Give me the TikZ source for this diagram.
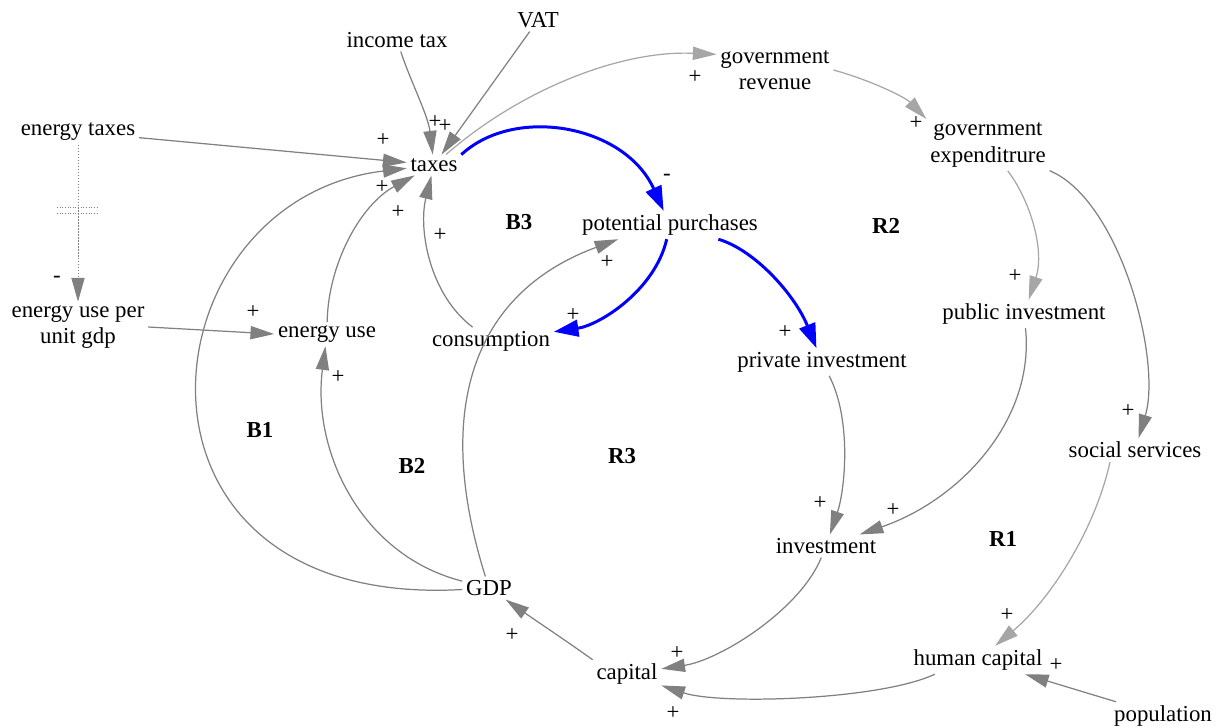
\documentclass[tikz,border=0pt]{standalone}
\usepackage{fontspec}
\setmainfont{Liberation Serif}
\usetikzlibrary{arrows.meta}
\definecolor{linkgray}{RGB}{128,128,128}
\definecolor{palegray}{RGB}{166,166,166}
\definecolor{loopblue}{RGB}{0,0,255}
\begin{document}
\begin{tikzpicture}[x=0.02cm,y=-0.02cm,
  every node/.style={font=\fontsize{13}{15}\selectfont},
  var/.style={inner sep=2pt,align=center},
  pol/.style={inner sep=0pt},
  looplabel/.style={font=\fontsize{13}{15}\selectfont\bfseries},
  link/.style={draw=linkgray,line width=0.7pt,-{Triangle[length=13.5pt,width=7.5pt]}},
  palelink/.style={link,draw=palegray},
  bluelink/.style={draw=loopblue,line width=1.7pt,-{Triangle[length=14pt,width=9.5pt]}},
  delaylink/.style={link,densely dotted,line width=0.5pt},
  delaymark/.style={draw=linkgray,densely dotted,line width=0.5pt}]
  \useasboundingbox (0,0) rectangle (1220,727);

  \node[var] (incometax) at (397,40) {income tax};
  \node[var] (vat) at (538,20) {VAT};
  \node[var] (govrev) at (775,70) {government\\revenue};
  \node[var] (energytaxes) at (78,132) {energy taxes};
  \node[var] (taxes) at (434,165) {taxes};
  \node[var] (govexp) at (988,145) {government\\expenditrure};
  \node[var] (purchases) at (670,225) {potential purchases};
  \node[var] (eupg) at (78,327) {energy use per\\unit gdp};
  \node[var] (energyuse) at (327,334) {energy use};
  \node[var] (consumption) at (491,341) {consumption};
  \node[var] (privinv) at (822,362) {private investment};
  \node[var] (pubinv) at (1024,314) {public investment};
  \node[var] (socserv) at (1135,450) {social services};
  \node[var] (investment) at (826,546) {investment};
  \node[var] (gdp) at (489,588) {GDP};
  \node[var] (capital) at (627,674) {capital};
  \node[var] (humcap) at (978,660) {human capital};
  \node[var] (population) at (1163,716) {population};

  \node[looplabel] (b1) at (260,430) {B1};
  \node[looplabel] (b2) at (412,466) {B2};
  \node[looplabel] (b3) at (519,222) {B3};
  \node[looplabel] (r1) at (1003,539) {R1};
  \node[looplabel] (r2) at (886,226) {R2};
  \node[looplabel] (r3) at (622,456) {R3};

  \draw[link] (incometax) .. controls (410,80) and (428,115) .. (taxes);
  \draw[link] (vat) -- (taxes);
  \draw[link] (energytaxes) -- (taxes);
  \draw[link] (gdp) .. controls (100,610) and (140,200) .. (taxes);
  \draw[link] (energyuse) .. controls (328,265) and (360,205) .. (taxes);
  \draw[link] (consumption) .. controls (430,295) and (418,230) .. (taxes);
  \draw[palelink] (taxes) .. controls (520,90) and (620,50) .. (govrev.165);
  \draw[palelink] (govrev.east) .. controls (870,80) and (905,97) .. (govexp.north west);
  \draw[palelink] (govexp) .. controls (1030,200) and (1045,250) .. (pubinv);
  \draw[link] (govexp) .. controls (1120,200) and (1162,360) .. (socserv);
  \draw[palelink] ([xshift=-0.5cm]socserv.south) .. controls (1095,530) and (1050,600) .. (humcap);
  \draw[link] (population) -- (humcap);
  \draw[link] ([xshift=0.5cm]humcap.south west) .. controls (880,700) and (720,705) .. (capital);
  \draw[link] (investment) .. controls (800,610) and (720,660) .. (capital);
  \draw[link] (capital.north west) .. controls (565,640) and (535,620) .. (gdp);
  \draw[link] (pubinv) .. controls (1035,420) and (960,500) .. (investment);
  \draw[link] (privinv) .. controls (852,420) and (845,490) .. (investment);
  \draw[link] (gdp) .. controls (430,400) and (480,290) .. ([xshift=0.8cm]purchases.south west);
  \draw[link] (gdp) .. controls (360,555) and (312,450) .. (energyuse);
  \draw[link] (eupg.east) -- (energyuse.west);
  \draw[delaylink] (energytaxes) -- (eupg);
  \draw[delaymark] (57,207) -- (99,207) (57,213) -- (99,213);
  \draw[bluelink] (taxes.north east) .. controls (515,105) and (625,125) .. (purchases);
  \draw[bluelink] (purchases) .. controls (755,250) and (795,295) .. (privinv);
  \draw[bluelink] (purchases) .. controls (655,290) and (600,325) .. (consumption);

  \node[pol] (p-inc) at (435,122) {+};
  \node[pol] (p-vat) at (445,126) {+};
  \node[pol] (p-etx) at (383,140) {+};
  \node[pol] (p-gdptx) at (382,187) {+};
  \node[pol] (p-eutx) at (398,212) {+};
  \node[pol] (p-contx) at (440,235) {+};
  \node[pol] (p-rev) at (695,77) {+};
  \node[pol] (p-exp) at (916,123) {+};
  \node[pol] (p-pub) at (1015,276) {+};
  \node[pol] (p-soc) at (1128,411) {+};
  \node[pol] (p-hum) at (1007,615) {+};
  \node[pol] (p-pop) at (1056,665) {+};
  \node[pol] (p-humcap) at (673,713) {+};
  \node[pol] (p-invcap) at (677,653) {+};
  \node[pol] (p-capgdp) at (512,635) {+};
  \node[pol] (p-pubinv) at (893,510) {+};
  \node[pol] (p-privinv) at (820,503) {+};
  \node[pol] (p-ppinv) at (785,332) {+};
  \node[pol] (p-ppcon) at (573,315) {+};
  \node[pol] (p-gdppp) at (607,262) {+};
  \node[pol] (p-taxpp) at (667,177) {-};
  \node[pol] (p-gdpeu) at (338,377) {+};
  \node[pol] (p-eupg) at (253,312) {+};
  \node[pol] (p-delay) at (57,279) {-};
\end{tikzpicture}
\end{document}
